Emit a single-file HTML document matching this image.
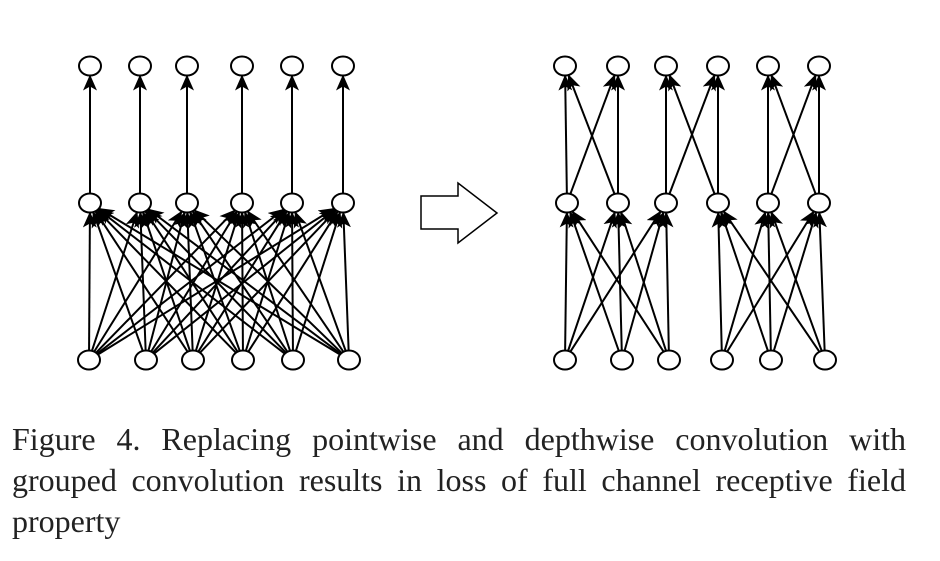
<!DOCTYPE html>
<html><head><meta charset="utf-8"><style>
html,body{margin:0;padding:0;background:#fff;width:940px;height:561px;overflow:hidden}
svg{position:absolute;left:0;top:0}
.cap{position:absolute;left:12px;top:419px;width:894px;font-family:"Liberation Serif",serif;font-size:32px;line-height:41px;color:#222}
.j{text-align:justify;text-align-last:justify;white-space:nowrap}
</style></head><body>
<svg id="s" width="940" height="410" viewBox="0 0 940 410">
<defs><marker id="a" markerUnits="userSpaceOnUse" markerWidth="18" markerHeight="14" refX="15" refY="7" orient="auto"><path d="M0,0 L16,7 L0,14 L4,7 Z" fill="#000"/></marker></defs>
<g id="e" stroke="#000" stroke-width="2" fill="none"></g>
<g id="n" stroke="#000" stroke-width="2" fill="#fff"></g>
<path d="M421,196 L458,196 L458,183 L497,213 L458,243 L458,229 L421,229 Z" fill="#fff" stroke="#000" stroke-width="1.5"/>
</svg>
<div class="cap"><div class="j">Figure 4. Replacing pointwise and depthwise convolution with</div><div class="j">grouped convolution results in loss of full channel receptive field</div><div>property</div></div>
<script>
var NS="http://www.w3.org/2000/svg",E=document.getElementById('e'),N=document.getElementById('n');
var rx=11,ry=9.5;
function node(x,y){var c=document.createElementNS(NS,'ellipse');c.setAttribute('cx',x);c.setAttribute('cy',y);c.setAttribute('rx',rx);c.setAttribute('ry',ry);N.appendChild(c);}
function edge(a,b){var dx=b[0]-a[0],dy=b[1]-a[1];
 function t(d){return 1/Math.sqrt((d[0]*d[0])/(rx*rx)+(d[1]*d[1])/(ry*ry));}
 var ts=t([dx,dy]);var l=document.createElementNS(NS,'line');
 l.setAttribute('x1',a[0]+dx*ts);l.setAttribute('y1',a[1]+dy*ts);
 l.setAttribute('x2',b[0]-dx*ts);l.setAttribute('y2',b[1]-dy*ts);
 l.setAttribute('marker-end','url(#a)');E.appendChild(l);}
var LT=[90,140,187,242,292,343].map(x=>[x,66]),LM=[90,140,187,242,292,343].map(x=>[x,203]),LB=[89,146,193,243,293,349].map(x=>[x,360]);
var RT=[565,618,666,718,768,819].map(x=>[x,66]),RM=[567,618,666,718,768,819].map(x=>[x,203]),RB=[565,622,669,722,771,825].map(x=>[x,360]);
for(var i=0;i<6;i++){edge(LM[i],LT[i]);for(var j=0;j<6;j++)edge(LB[j],LM[i]);}
for(var g=0;g<3;g++)for(var i=0;i<2;i++)for(var j=0;j<2;j++)edge(RM[2*g+i],RT[2*g+j]);
for(var g=0;g<2;g++)for(var i=0;i<3;i++)for(var j=0;j<3;j++)edge(RB[3*g+i],RM[3*g+j]);
[LT,LM,LB,RT,RM,RB].forEach(a=>a.forEach(p=>node(p[0],p[1])));
</script>
</body></html>
